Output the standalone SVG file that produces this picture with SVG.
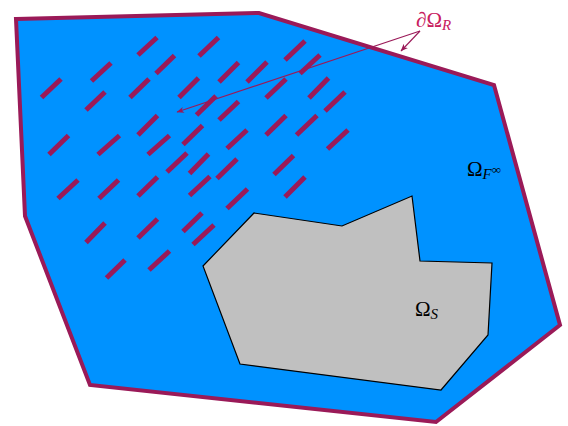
<svg xmlns="http://www.w3.org/2000/svg" width="568" height="426" viewBox="0 0 568 426">
<defs>
<style>
.dom{fill:#0092ff;stroke:#9a1a58;stroke-width:4;stroke-linejoin:miter}
.solid{fill:#c0c0c0;stroke:#000;stroke-width:1.2}
.d{stroke:#9a1a58;stroke-width:5;stroke-linecap:butt}
.con{stroke:#9a1a58;stroke-width:1.1;fill:none}
.lab{font-family:"Liberation Serif","DejaVu Serif",serif;fill:#000}
.lab2{font-family:"Liberation Serif","DejaVu Serif",serif;fill:#c8205e}
</style>
<marker id="ah" markerWidth="9" markerHeight="8" refX="7" refY="3.5" orient="auto" markerUnits="userSpaceOnUse">
<path d="M0,0.5 L7.5,3.5 L0,6.5 L2,3.5 z" fill="#9a1a58"/>
</marker>
</defs>
<g id="fluid-domain">
<polygon class="dom" points="16,19 259,13 494,85 560,325 436,422 90,385 25,216"/>
</g>
<g id="solid-domain">
<polygon class="solid" points="203,266 254,213 342,226 412,196 420,261 492,263 488,335 441,390 240,364"/>
</g>
<g id="rough-boundary">
<line class="d" x1="138" y1="55" x2="157" y2="37.5"/>
<line class="d" x1="156" y1="73.5" x2="174.5" y2="55.5"/>
<line class="d" x1="91.5" y1="81" x2="111" y2="63"/>
<line class="d" x1="41.5" y1="97.5" x2="61" y2="79"/>
<line class="d" x1="86" y1="110" x2="105" y2="92"/>
<line class="d" x1="130" y1="97.5" x2="149" y2="79"/>
<line class="d" x1="179" y1="97.5" x2="198.5" y2="78"/>
<line class="d" x1="138" y1="135" x2="157.5" y2="115.5"/>
<line class="d" x1="183" y1="144.5" x2="202.5" y2="125.5"/>
<line class="d" x1="148" y1="154.5" x2="169.5" y2="135.5"/>
<line class="d" x1="49" y1="154.5" x2="68.5" y2="135.5"/>
<line class="d" x1="98" y1="154.5" x2="119.5" y2="135.5"/>
<line class="d" x1="199" y1="56" x2="218.5" y2="37.5"/>
<line class="d" x1="285" y1="60" x2="305" y2="41"/>
<line class="d" x1="300" y1="73.5" x2="320" y2="55"/>
<line class="d" x1="219" y1="82" x2="238.5" y2="62.5"/>
<line class="d" x1="247" y1="82" x2="267" y2="62"/>
<line class="d" x1="266" y1="98" x2="286" y2="79"/>
<line class="d" x1="309" y1="98" x2="328.5" y2="78"/>
<line class="d" x1="325" y1="111" x2="345" y2="92"/>
<line class="d" x1="196.5" y1="115" x2="216" y2="96"/>
<line class="d" x1="219" y1="120" x2="238.5" y2="101.5"/>
<line class="d" x1="266" y1="135" x2="286" y2="115.5"/>
<line class="d" x1="296.5" y1="135" x2="317" y2="115.5"/>
<line class="d" x1="227" y1="148.5" x2="247" y2="130"/>
<line class="d" x1="327.5" y1="149" x2="348" y2="130"/>
<line class="d" x1="167" y1="172" x2="187" y2="153"/>
<line class="d" x1="58" y1="198.5" x2="78" y2="180"/>
<line class="d" x1="99" y1="198.5" x2="118.5" y2="180"/>
<line class="d" x1="138" y1="196" x2="157.5" y2="177"/>
<line class="d" x1="86" y1="242.5" x2="105" y2="223"/>
<line class="d" x1="138" y1="238" x2="157.5" y2="219"/>
<line class="d" x1="106.5" y1="278" x2="125" y2="260"/>
<line class="d" x1="149" y1="270" x2="169.5" y2="251"/>
<line class="d" x1="189.5" y1="173.5" x2="208.5" y2="154"/>
<line class="d" x1="217" y1="178.5" x2="237" y2="159"/>
<line class="d" x1="189.5" y1="195.5" x2="210" y2="176.5"/>
<line class="d" x1="227" y1="208.5" x2="247.5" y2="189"/>
<line class="d" x1="274" y1="174.5" x2="293.5" y2="155.5"/>
<line class="d" x1="285" y1="197" x2="305" y2="177"/>
<line class="d" x1="183" y1="231.5" x2="202" y2="213"/>
<line class="d" x1="193" y1="244.5" x2="214" y2="225"/>
</g>
<g id="connectors">
<line class="con" x1="420" y1="31" x2="401" y2="51" marker-end="url(#ah)"/>
<line class="con" x1="420" y1="31" x2="177" y2="112" marker-end="url(#ah)"/>
</g>
<g id="label-rough">
<text class="lab2" x="416" y="27" font-size="21">∂Ω<tspan font-size="15" font-style="italic" dy="3">R</tspan></text>
</g>
<g id="label-fluid">
<text class="lab" x="467" y="176" font-size="21">Ω<tspan font-size="15" font-style="italic" dy="3">F</tspan><tspan font-size="13" dy="-5">∞</tspan></text>
</g>
<g id="label-solid">
<text class="lab" x="415" y="316" font-size="21">Ω<tspan font-size="15" font-style="italic" dy="3">S</tspan></text>
</g>
</svg>
